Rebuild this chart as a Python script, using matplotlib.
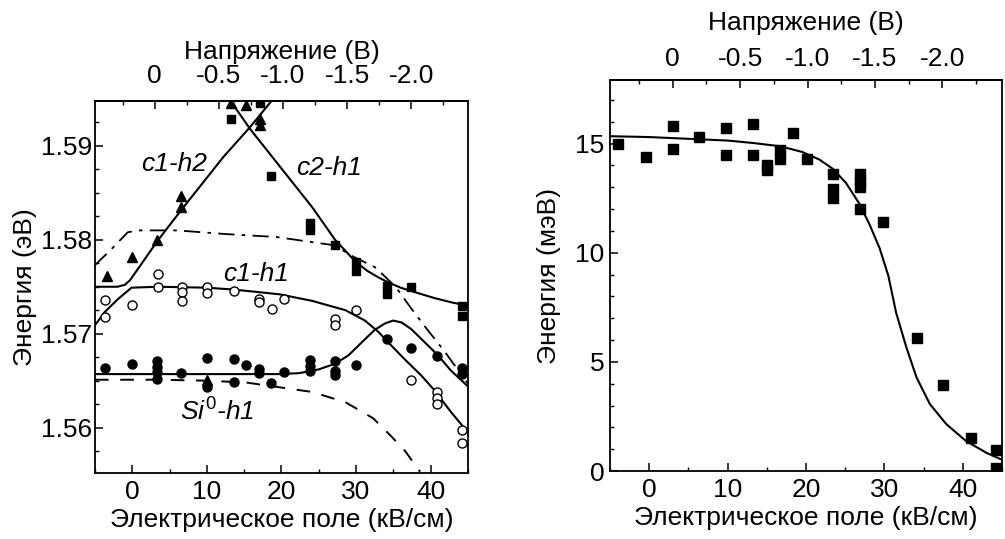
# two-panel figure: transition energies vs electric field
import matplotlib
matplotlib.use('Agg')
import matplotlib.pyplot as plt
from matplotlib.ticker import MultipleLocator, FixedLocator, FixedFormatter, FormatStrFormatter

plt.rcParams['font.family'] = ['Liberation Sans', 'DejaVu Sans']
plt.rcParams['mathtext.fontset'] = 'custom'
plt.rcParams['mathtext.rm'] = 'Liberation Sans'
plt.rcParams['mathtext.it'] = 'Liberation Sans:italic'

FS = 19

# ---- left panel data (field kV/cm, energy eV) ----
tri_E = [-3.4, -0.1, 3.3, 6.6, 6.6, 10.0, 13.3, 15.3, 17.1, 17.1]
tri_Y = [1.5761, 1.5782, 1.5800, 1.5847, 1.5835, 1.5651, 1.5946, 1.5943, 1.5929, 1.5922]

sq_E = [13.3, 17.1, 18.6, 23.8, 23.8, 27.2, 30.0, 30.0, 34.1, 34.1, 37.4, 44.2, 44.2]
sq_Y = [1.5929, 1.5946, 1.5868, 1.5818, 1.5810, 1.5794, 1.5776, 1.5767, 1.5751, 1.5742,
        1.5750, 1.5730, 1.5719]

oc_E = [-3.6, -3.6, -0.1, 3.4, 3.4, 6.7, 6.7, 6.7, 10.0, 10.0, 13.6, 17.0, 17.0, 18.8,
        20.4, 27.2, 27.2, 30.0, 37.4, 40.8, 40.8, 40.8, 44.2, 44.2]
oc_Y = [1.5736, 1.5718, 1.5731, 1.5764, 1.5750, 1.5750, 1.5744, 1.5735, 1.5750, 1.5743,
        1.5746, 1.5737, 1.5734, 1.5726, 1.5737, 1.5716, 1.5709, 1.5725, 1.5651, 1.5638,
        1.5632, 1.5625, 1.5597, 1.5584]

fc_E = [-3.6, -0.1, 3.3, 3.3, 3.3, 3.3, 6.6, 10.0, 10.0, 13.6, 13.6, 15.2, 17.0, 17.0,
        18.6, 20.4, 23.8, 23.8, 23.8, 27.2, 27.2, 27.2, 30.0, 34.1, 37.4, 40.8, 44.2, 44.2]
fc_Y = [1.5664, 1.5668, 1.5671, 1.5665, 1.5659, 1.5652, 1.5658, 1.5674, 1.5643, 1.5673,
        1.5649, 1.5667, 1.5662, 1.5658, 1.5648, 1.5659, 1.5672, 1.5666, 1.5660, 1.5671,
        1.5660, 1.5656, 1.5667, 1.5694, 1.5685, 1.5676, 1.5663, 1.5657]

# model curves
c1h2_E = [-5.0, -2.0, -1.0, -0.3, 0.5, 3.4, 6.7, 12.2, 15.8, 19.0]
c1h2_Y = [1.5750, 1.5750, 1.5752, 1.5757, 1.5766, 1.5799, 1.5833, 1.5888, 1.5920, 1.5951]

c2h1_E = [13.0, 15.8, 19.7, 24.1, 27.2, 29.9, 31.5, 33.0, 34.5, 36.0, 38.0, 40.5, 43.0, 45.0]
c2h1_Y = [1.5950, 1.5918, 1.5879, 1.5835, 1.5800, 1.5777, 1.5767, 1.5760, 1.5754, 1.5749,
          1.5744, 1.5738, 1.5733, 1.5730]

c1h1_E = [-5.0, -3.7, -1.9, -0.1, 3.4, 10.0, 13.6, 19.7, 24.1, 28.6, 31.2, 33.0, 34.3,
          36.5, 38.7, 40.5, 42.7, 45.0]
c1h1_Y = [1.5709, 1.5723, 1.5737, 1.5749, 1.5750, 1.5749, 1.5747, 1.5742, 1.5735, 1.5725,
          1.5714, 1.5702, 1.5691, 1.5673, 1.5656, 1.5640, 1.5617, 1.5595]

low_E = [-5.0, 19.7, 22.4, 25.0, 27.2, 29.0, 30.8, 32.5, 33.9, 35.0, 36.1, 37.4, 39.2,
         41.0, 42.7, 45.0]
low_Y = [1.5657, 1.5657, 1.5658, 1.5662, 1.5668, 1.5677, 1.5691, 1.5704, 1.5711, 1.5714,
         1.5712, 1.5705, 1.5691, 1.5677, 1.5661, 1.5644]

dd_E = [-5.0, -2.8, -0.6, 0.8, 6.0, 12.7, 19.3, 23.7, 27.2, 29.4, 31.2, 32.5, 34.0, 35.5,
        37.4, 39.6, 41.8, 45.0]
dd_Y = [1.5773, 1.5790, 1.5808, 1.5810, 1.5810, 1.5806, 1.5803, 1.5798, 1.5794, 1.5783,
        1.5776, 1.5771, 1.5760, 1.5748, 1.5727, 1.5704, 1.5682, 1.5647]

si_E = [-5.0, 3.4, 10.0, 15.3, 19.7, 24.1, 28.6, 32.3, 34.7, 36.6, 38.6]
si_Y = [1.5651, 1.5651, 1.5650, 1.5648, 1.5643, 1.5638, 1.5627, 1.5610, 1.5591, 1.5575, 1.5553]

# ---- right panel data (field kV/cm, energy meV) ----
r_E = [-4.0, -0.4, 3.0, 3.0, 6.3, 9.8, 9.8, 13.2, 13.2, 15.0, 15.0, 16.7, 16.7, 18.4,
       20.1, 23.5, 23.5, 23.5, 26.9, 26.9, 26.9, 26.9, 29.8, 34.1, 37.5, 41.1, 44.3, 44.3]
r_Z = [15.0, 14.4, 15.8, 14.75, 15.3, 15.7, 14.5, 15.9, 14.5, 14.0, 13.8, 14.7, 14.3, 15.5,
       14.3, 13.6, 12.9, 12.5, 13.6, 13.3, 13.0, 12.0, 11.4, 6.1, 3.96, 1.53, 0.95, 0.15]

fit_E = [-5.0, 0.0, 5.0, 10.0, 13.2, 16.7, 19.5, 21.7, 23.4, 25.1, 26.8, 28.1, 29.4, 30.5,
         31.5, 32.8, 34.1, 35.8, 37.9, 40.4, 43.0, 45.0]
fit_Z = [15.34, 15.30, 15.22, 15.14, 15.03, 14.88, 14.62, 14.27, 13.85, 13.20, 12.25, 11.30,
         10.20, 8.95, 7.25, 5.67, 4.29, 3.07, 2.15, 1.38, 0.84, 0.52]

volt_ticks = [0, -0.5, -1.0, -1.5, -2.0]
volt_labels = ['0', '-0.5', '-1.0', '-1.5', '-2.0']
volt_minor = [0.25, -0.25, -0.75, -1.25, -1.75, -2.25]


def e_to_v(e):
    return (3.0 - e) / 17.2


def v_to_e(v):
    return 3.0 - 17.2 * v


def style_axes(ax, top_pad, top_labelpad):
    ax.set_xlim(-5, 45)
    ax.xaxis.set_major_locator(MultipleLocator(10))
    ax.xaxis.set_minor_locator(MultipleLocator(5))
    ax.tick_params(which='both', direction='in', labelsize=FS, top=False, right=False)
    ax.tick_params(which='major', length=6, width=1.1)
    ax.tick_params(which='minor', length=3, width=1.0)
    ax.tick_params(axis='x', pad=5)
    for s in ax.spines.values():
        s.set_linewidth(1.3)
    ax.set_xlabel('Электрическое поле (кВ/см)', fontsize=FS, labelpad=3)
    sec = ax.secondary_xaxis('top', functions=(e_to_v, v_to_e))
    sec.xaxis.set_major_locator(FixedLocator(volt_ticks))
    sec.xaxis.set_major_formatter(FixedFormatter(volt_labels))
    sec.xaxis.set_minor_locator(FixedLocator(volt_minor))
    sec.tick_params(which='both', direction='in', labelsize=FS, pad=top_pad)
    sec.tick_params(which='major', length=6, width=1.1)
    sec.tick_params(which='minor', length=3, width=1.0)
    sec.set_xlabel('Напряжение (В)', fontsize=FS, labelpad=top_labelpad)
    sec.spines['top'].set_linewidth(1.3)


fig = plt.figure(figsize=(10.05, 5.39), dpi=100)
ax1 = fig.add_axes([0.0945, 0.123, 0.371, 0.690])
ax2 = fig.add_axes([0.607, 0.126, 0.390, 0.725])

# left panel
ax1.plot(c1h2_E, c1h2_Y, 'k-', lw=1.5)
ax1.plot(c2h1_E, c2h1_Y, 'k-', lw=1.5)
ax1.plot(c1h1_E, c1h1_Y, 'k-', lw=1.5)
ax1.plot(low_E, low_Y, 'k-', lw=1.5)
ax1.plot(dd_E, dd_Y, color='k', lw=1.3, dashes=(9, 4, 2, 4))
ax1.plot(si_E, si_Y, color='k', lw=1.4, dashes=(7, 6))
ax1.plot(tri_E, tri_Y, '^', color='k', ms=7, ls='none')
ax1.plot(sq_E, sq_Y, 's', color='k', ms=6, ls='none')
ax1.plot(oc_E, oc_Y, 'o', mfc='white', mec='k', mew=1.0, ms=6.5, ls='none')
ax1.plot(fc_E, fc_Y, 'o', color='k', ms=6.5, ls='none')

ax1.text(5.6, 1.5881, 'c1-h2', fontsize=FS, style='italic', ha='center', va='center')
ax1.text(26.4, 1.5876, 'c2-h1', fontsize=FS, style='italic', ha='center', va='center')
ax1.text(16.6, 1.5764, 'c1-h1', fontsize=FS, style='italic', ha='center', va='center')
ax1.text(11.4, 1.5617, r'$\mathit{Si}^{\mathit{0}}$-h1', fontsize=FS, style='italic',
         ha='center', va='center')

ax1.set_ylim(1.5552, 1.5948)
ax1.yaxis.set_major_locator(MultipleLocator(0.01))
ax1.yaxis.set_minor_locator(MultipleLocator(0.0025))
ax1.yaxis.set_major_formatter(FormatStrFormatter('%.2f'))
style_axes(ax1, top_pad=9, top_labelpad=4)
ax1.tick_params(axis='y', pad=2)
ax1.set_ylabel('Энергия (эВ)', fontsize=FS, labelpad=3)

# right panel
ax2.plot(fit_E, fit_Z, 'k-', lw=1.5)
ax2.plot(r_E, r_Z, 's', color='k', ms=6.5, ls='none')
ax2.set_ylim(0, 17.9)
ax2.yaxis.set_major_locator(MultipleLocator(5))
ax2.yaxis.set_minor_locator(MultipleLocator(1))
style_axes(ax2, top_pad=7, top_labelpad=12)
ax2.tick_params(axis='y', pad=4)
ax2.set_ylabel('Энергия (мэВ)', fontsize=FS, labelpad=10)

fig.savefig('out.png', dpi=100)
